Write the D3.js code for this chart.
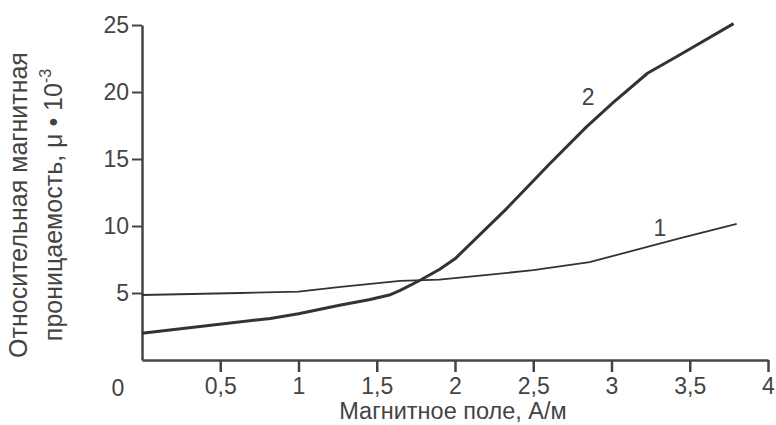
<!DOCTYPE html>
<html><head><meta charset="utf-8">
<script src="https://cdn.jsdelivr.net/npm/d3@7/dist/d3.min.js"></script>
<style>
html,body{margin:0;padding:0;background:#fff;}
text{font-family:"Liberation Sans",Arial,sans-serif;fill:#444;}
</style></head>
<body>
<svg id="c" width="776" height="425"></svg>
<script>
const xTicks = [0.5, 1, 1.5, 2, 2.5, 3, 3.5, 4];
const xTickLabels = ["0,5", "1", "1,5", "2", "2,5", "3", "3,5", "4"];
const yTicks = [5, 10, 15, 20, 25];
const curve1X = [0, 0.63, 1.0, 1.27, 1.65, 1.9, 2.16, 2.5, 2.86, 3.44, 3.8];
const curve1Y = [4.85, 5.0, 5.1, 5.45, 5.9, 6.0, 6.3, 6.7, 7.3, 9.1, 10.15];
const curve2X = [0, 0.82, 1.0, 1.27, 1.45, 1.58, 1.65, 1.78, 1.9, 2.0, 2.33, 2.61, 2.84, 3.01, 3.23, 3.44, 3.78];
const curve2Y = [2.0, 3.1, 3.45, 4.1, 4.5, 4.85, 5.2, 5.97, 6.75, 7.55, 11.3, 14.7, 17.4, 19.2, 21.4, 22.8, 25.1];
const xTitle = "Магнитное поле, А/м";
const yTitle1 = "Относительная магнитная";
const yTitle2 = "проницаемость, μ • 10";

const svg = d3.select("#c");
const x = d3.scaleLinear().domain([0, 4]).range([142, 768]);
const y = d3.scaleLinear().domain([0, 25]).range([360, 25]);
const axisColor = "#444";
const FF = "Liberation Sans, Arial, sans-serif";

// axes
const gx = svg.append("g").attr("transform", `translate(0,${y(0)})`)
  .call(d3.axisBottom(x).tickValues(xTicks).tickFormat((d, i) => xTickLabels[i]).tickSize(12).tickPadding(6).tickSizeOuter(0));
gx.select(".domain").attr("stroke", axisColor).attr("stroke-width", 2.5);
gx.selectAll(".tick line").attr("stroke", axisColor).attr("stroke-width", 2.5);
gx.selectAll(".tick text").attr("font-size", 23).attr("fill", "#444").attr("font-family", FF);

const gy = svg.append("g").attr("transform", `translate(${x(0)},0)`)
  .call(d3.axisLeft(y).tickValues(yTicks).tickSize(10).tickPadding(3).tickSizeOuter(0));
gy.select(".domain").attr("stroke", axisColor).attr("stroke-width", 2.5);
gy.selectAll(".tick line").attr("stroke", axisColor).attr("stroke-width", 2);
gy.selectAll(".tick text").attr("font-size", 23).attr("fill", "#444").attr("font-family", FF);

// origin label
svg.append("text").attr("x", 118).attr("y", 396).attr("text-anchor", "middle").attr("font-size", 23).text("0");

// curves
const line = d3.line().x(d => x(d[0])).y(d => y(d[1])).curve(d3.curveLinear);
const c1 = curve1X.map((v, i) => [v, curve1Y[i]]);
const c2 = curve2X.map((v, i) => [v, curve2Y[i]]);
svg.append("path").attr("d", line(c1)).attr("fill", "none").attr("stroke", "#333").attr("stroke-width", 1.8).attr("stroke-linejoin", "round");
svg.append("path").attr("d", line(c2)).attr("fill", "none").attr("stroke", "#333").attr("stroke-width", 3).attr("stroke-linejoin", "round");

// curve labels
svg.append("text").attr("x", x(2.85)).attr("y", y(19.0)).attr("text-anchor", "middle").attr("font-size", 23).text("2");
svg.append("text").attr("x", x(3.31)).attr("y", y(9.25)).attr("text-anchor", "middle").attr("font-size", 23).text("1");

// titles
svg.append("text").attr("x", 453).attr("y", 419).attr("text-anchor", "middle").attr("font-size", 23.5).text(xTitle);
const yt = svg.append("g").attr("transform", "translate(27,205) rotate(-90)");
yt.append("text").attr("x", 0).attr("y", 0).attr("text-anchor", "middle").attr("font-size", 25).text(yTitle1);
const t2 = yt.append("text").attr("x", 0).attr("y", 35).attr("text-anchor", "middle").attr("font-size", 25);
t2.append("tspan").text(yTitle2);
t2.append("tspan").attr("dy", -11).attr("font-size", 16).text("-3");
</script>
</body></html>
